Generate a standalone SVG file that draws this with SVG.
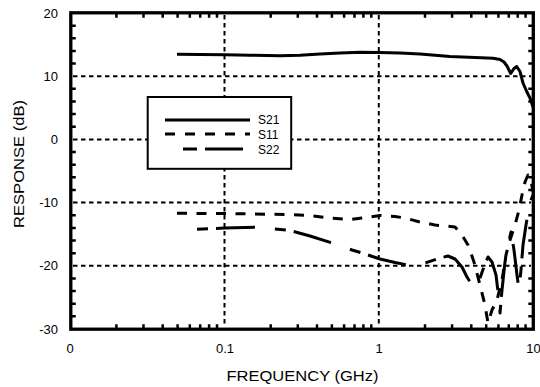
<svg xmlns="http://www.w3.org/2000/svg" width="540" height="387" viewBox="0 0 540 387">
<style>
.t{font-family:"Liberation Sans",Arial,sans-serif;font-size:13px;fill:#000}
.ttl{font-family:"Liberation Sans",Arial,sans-serif;font-size:15px;fill:#000}
.lg{font-family:"Liberation Sans",Arial,sans-serif;font-size:12px;fill:#000}
.grid{stroke:#000;stroke-width:2;stroke-dasharray:4.5 3.5;fill:none}
.tick{stroke:#000;stroke-width:2.5;fill:none}
.c{fill:none;stroke:#000;stroke-width:3;stroke-linejoin:round}
.s21{}
.s11{stroke-dasharray:10 9.5}
.s22{stroke-dasharray:11 8 39 20}
</style>
<rect width="540" height="387" fill="#fff"/>
<g id="grid">
<line class="grid" x1="73" y1="76.2" x2="531" y2="76.2"/>
<line class="grid" x1="73" y1="139.4" x2="531" y2="139.4"/>
<line class="grid" x1="73" y1="202.6" x2="531" y2="202.6"/>
<line class="grid" x1="73" y1="265.8" x2="531" y2="265.8"/>
<line class="grid" x1="224.5" y1="15" x2="224.5" y2="327"/>
<line class="grid" x1="378.8" y1="15" x2="378.8" y2="327"/>
</g>
<g id="ticks">
<path class="tick" d="M70.8 25.64h5M70.8 38.28h5M70.8 50.92h5M70.8 63.56h5M70.8 88.84h5M70.8 101.48h5M70.8 114.12h5M70.8 126.76h5M70.8 152.04h5M70.8 164.68h5M70.8 177.32h5M70.8 189.96h5M70.8 215.24h5M70.8 227.88h5M70.8 240.52h5M70.8 253.16h5M70.8 278.44h5M70.8 291.08h5M70.8 303.72h5M70.8 316.36h5"/>
<path class="tick" d="M533.3 25.64h-5M533.3 38.28h-5M533.3 50.92h-5M533.3 63.56h-5M533.3 88.84h-5M533.3 101.48h-5M533.3 114.12h-5M533.3 126.76h-5M533.3 152.04h-5M533.3 164.68h-5M533.3 177.32h-5M533.3 189.96h-5M533.3 215.24h-5M533.3 227.88h-5M533.3 240.52h-5M533.3 253.16h-5M533.3 278.44h-5M533.3 291.08h-5M533.3 303.72h-5M533.3 316.36h-5"/>
<path class="tick" d="M116.4 12.8v5M143.5 12.8v5M162.7 12.8v5M177.6 12.8v5M189.8 12.8v5M200.2 12.8v5M209.1 12.8v5M217.0 12.8v5M270.7 12.8v5M297.8 12.8v5M317.0 12.8v5M331.9 12.8v5M344.1 12.8v5M354.5 12.8v5M363.4 12.8v5M371.3 12.8v5M425.0 12.8v5M452.1 12.8v5M471.3 12.8v5M486.2 12.8v5M498.4 12.8v5M508.8 12.8v5M517.7 12.8v5M525.6 12.8v5"/>
<path class="tick" d="M116.4 329.2v-5M143.5 329.2v-5M162.7 329.2v-5M177.6 329.2v-5M189.8 329.2v-5M200.2 329.2v-5M209.1 329.2v-5M217.0 329.2v-5M270.7 329.2v-5M297.8 329.2v-5M317.0 329.2v-5M331.9 329.2v-5M344.1 329.2v-5M354.5 329.2v-5M363.4 329.2v-5M371.3 329.2v-5M425.0 329.2v-5M452.1 329.2v-5M471.3 329.2v-5M486.2 329.2v-5M498.4 329.2v-5M508.8 329.2v-5M517.7 329.2v-5M525.6 329.2v-5"/>
</g>
<g id="connectors">
<path id="S21" class="c s21" d="M177 54.3 L200 54.5 L225 54.7 L250 55.2 L280 55.7 L300 55.2 L320 54 L340 53 L360 52.3 L380 52.5 L400 53 L420 54 L450 56.5 L475 57.5 L493 58.3 L500 59.5 L504 62 L507 66 L510.7 73.5 L514 68.5 L516.7 66.5 L520 71.5 L523 83 L526.7 91.5 L530 98 L533 107"/>
<path id="S11" class="c s11" d="M177 213.3 L225 213.5 L255 214 L290 214.5 L310 215.5 L330 218 L350 219.5 L362 218 L380 215.5 L395 216.5 L405 218 L420 222 L435 225 L455 227 L462 235 L468 245 L474 262 L480 285 L485 305 L488 323 L492 310 L497 300 L502 280 L506 255 L510 240 L515 225 L519 210 L522 195 L525 182 L528 175 L531 180 L533 192"/>
<path id="S22" class="c s22" d="M197 229.3 L225 228 L255 227.3 L275 229 L290 230.5 L310 236 L332 243 L352 250 L362 253 L380 259 L395 262.5 L410 265.5 L425 263 L440 258 L448 256 L455 259 L462 267 L467 277 L472 285 L476 288 L480 278 L485 264 L488 257 L492 262 L496 275 L499 300 L500 313 L502 290 L505 262 L508 245 L511 232 L514 250 L517 275 L519 290 L521 270 L523 245 L526 225 L529 208 L531 200 L533 195"/>
</g>
<rect id="frame" x="70.8" y="12.8" width="462.5" height="316.4" fill="none" stroke="#000" stroke-width="3.3"/>
<g id="legend">
<rect x="147.7" y="97" width="143.5" height="71.8" fill="#fff" stroke="#000" stroke-width="2"/>
<line class="c" x1="165" y1="120" x2="250" y2="120"/>
<line class="c" x1="165" y1="134" x2="250" y2="134" stroke-dasharray="10 10"/>
<line class="c" x1="183" y1="149" x2="243" y2="149" stroke-dasharray="14 8 38"/>
<text class="lg" x="258" y="124">S21</text>
<text class="lg" x="258" y="138.5">S11</text>
<text class="lg" x="258" y="153.5">S22</text>
</g>
<g id="ylabels" text-anchor="end">
<text class="t" x="58" y="17.5">20</text>
<text class="t" x="58" y="80.7">10</text>
<text class="t" x="58" y="144">0</text>
<text class="t" x="58" y="207">-10</text>
<text class="t" x="58" y="270.3">-20</text>
<text class="t" x="58" y="333.5">-30</text>
</g>
<g id="xlabels" text-anchor="middle">
<text class="t" x="70" y="353">0</text>
<text class="t" x="225" y="353">0.1</text>
<text class="t" x="379" y="353">1</text>
<text class="t" x="533.5" y="353">10</text>
</g>
<text class="ttl" x="302.5" y="381" text-anchor="middle" textLength="152" lengthAdjust="spacingAndGlyphs">FREQUENCY (GHz)</text>
<text class="ttl" transform="translate(24,164) rotate(-90)" text-anchor="middle" textLength="128" lengthAdjust="spacingAndGlyphs">RESPONSE (dB)</text>
</svg>
